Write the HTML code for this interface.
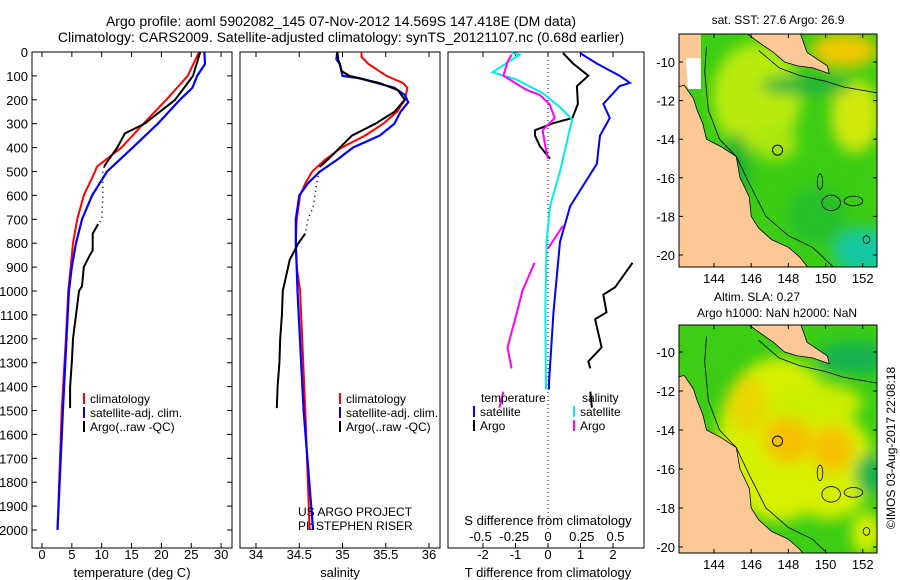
<!DOCTYPE html>
<html><head><meta charset="utf-8"><style>
body{margin:0;background:#fff;}
svg{display:block;font-family:"Liberation Sans",sans-serif;}
text{fill:#000;}
</style></head><body>
<svg id="s" width="900" height="580" viewBox="0 0 900 580" xmlns="http://www.w3.org/2000/svg">
<defs>
<filter id="bl1" x="-50%" y="-50%" width="200%" height="200%"><feGaussianBlur stdDeviation="7"/></filter>
<clipPath id="c1"><rect x="679" y="34" width="198" height="233"/></clipPath>
<clipPath id="c2"><rect x="679" y="325" width="198" height="228"/></clipPath>
</defs>
<text x="341" y="26" font-size="14" text-anchor="middle">Argo profile: aoml 5902082_145 07-Nov-2012 14.569S 147.418E (DM data)</text>
<text x="341" y="42" font-size="14" text-anchor="middle">Climatology: CARS2009. Satellite-adjusted climatology: synTS_20121107.nc (0.68d earlier)</text>
<g id="g"></g>
</svg>
<script>
// ---------- data ----------
const depthTicks=[0,100,200,300,400,500,600,700,800,900,1000,1100,1200,1300,1400,1500,1600,1700,1800,1900,2000];
const tempTicks=[0,5,10,15,20,25,30];
const salTicks=[34,34.5,35,35.5,36];
const tdiffTicks=[-2,-1,0,1,2];
const sdiffTicks=[-0.5,-0.25,0,0.25,0.5];
const sdiffTickLabels=["-0.5","-0.25","0","0.25","0.5"];

const climD=[0,100,200,300,400,480,500,600,700,800,900,1000,1200,1500,2000];
const climT=[26.3,24.4,20.8,17,13.3,9.2,8.9,7,5.9,5.2,4.8,4.4,4.0,3.3,2.6];
const satD=[0,50,100,150,200,300,400,500,600,700,800,900,1000,1500,2000];
const satT=[27.2,27.3,26,25.2,23.1,19.4,15.2,10.9,8.4,6.7,5.7,5,4.5,3.5,2.6];
const argoD=[0,100,200,300,340,400,460,480,500,600,700,720,760,830,850,900,980,1000,1100,1200,1300,1400,1490];
const argoT=[26.5,25.3,22.3,17.2,13.9,12.6,10.9,10.4,10.2,10.2,10,9.4,8.5,8.5,8,7,6.7,6.2,5.7,5.2,5,4.7,4.7];

const climSD=[0,20,50,100,130,150,200,250,300,350,400,450,500,550,600,700,800,900,1000,1500,2000];
const climS=[35.22,35.22,35.3,35.51,35.7,35.75,35.72,35.63,35.47,35.26,34.99,34.8,34.65,34.57,34.51,34.47,34.46,34.47,34.51,34.57,34.62];
const satSD=[0,30,50,100,110,150,180,210,250,300,350,400,450,500,550,600,700,800,900,1000,1500,2000];
const satS=[34.94,34.93,34.97,35.0,35.2,35.6,35.72,35.76,35.67,35.6,35.43,35.12,34.94,34.74,34.6,34.5,34.46,34.46,34.47,34.48,34.55,34.66];
const argoSD=[0,30,80,100,130,160,200,250,300,350,400,450,480,550,650,700,760,800,870,1000,1100,1200,1300,1400,1490];
const argoS=[34.94,34.95,34.99,35.08,35.43,35.64,35.72,35.6,35.38,35.11,34.97,34.83,34.74,34.7,34.66,34.6,34.57,34.49,34.39,34.31,34.3,34.28,34.27,34.25,34.24];

const dSatTD=[4,48,99,129,143,217,276,350,468,646,794,1088,1383,1412];
const dSatT=[0.98,1.5,2.2,2.52,2.2,1.7,1.9,1.6,1.5,0.68,0.37,0.17,0.03,0.03];
const dArgoTD1=[4,48,99,143,217,276,298,327,350,394,446];
const dArgoT1=[0.46,0.77,1.24,0.89,0.92,0.75,0.16,-0.4,-0.4,-0.25,0.06];
const dArgoTD2=[882,985,1015,1089,1118,1236,1295,1324];
const dArgoT2=[2.6,2.06,1.7,1.8,1.45,1.65,1.24,1.3];
const dArgoTD3=[1421,1488];
const dArgoT3=[1.3,1.35];
const dSatSD=[4,11,85,114,172,232,283,350,498,646,794,1088,1412];
const dSatS=[-0.27,-0.21,-0.41,-0.24,-0.04,0.09,0.18,0.15,0.09,0.015,-0.01,-0.02,-0.015];
const dArgoSD1=[11,41,99,158,180,217,276,327,394,446];
const dArgoS1=[-0.27,-0.3,-0.33,-0.16,-0.06,0.01,0.05,-0.04,-0.02,0];
const dArgoSD2=[727,823];
const dArgoS2=[0.11,0];
const dArgoSD3=[882,1000,1089,1236,1324];
const dArgoS3=[-0.1,-0.19,-0.23,-0.3,-0.27];
const dArgoSD4=[1421,1488];
const dArgoS4=[-0.33,-0.36];

const mapLatTicks=[-10,-12,-14,-16,-18,-20];
const mapLonTicks=[144,146,148,150,152];
const argoLon=147.418, argoLat=-14.569;

// ---------- helpers ----------
const NS="http://www.w3.org/2000/svg";
const G=document.getElementById('g');
function mk(tag,attrs,parent){const e=document.createElementNS(NS,tag);for(const k in attrs)e.setAttribute(k,attrs[k]);(parent||G).appendChild(e);return e;}
function txt(x,y,s,size,anchor,parent){const t=mk('text',{x:x,y:y,'font-size':size,'text-anchor':anchor||'middle'},parent);t.textContent=s;return t;}
const yD=d=>52+0.239*d;
const xT=v=>42+5.97*v;
const xS=v=>256+86.5*(v-34);
const xdT=v=>548+32.5*v;
const xdS=v=>548+135*v;

function poly(D,V,xf,color,w,name,dash){
  const pts=D.map((d,i)=>xf(V[i]).toFixed(1)+','+yD(d).toFixed(1)).join(' ');
  const p=mk('polyline',{points:pts,fill:'none',stroke:color,'stroke-width':w});
  if(dash)p.setAttribute('stroke-dasharray',dash);
  
  
  return p;
}

// ---------- panels ----------
const panels=[[32,232],[240,440],[448,644]];
panels.forEach((p,i)=>{
  const r=mk('rect',{x:p[0],y:52,width:p[1]-p[0],height:496,fill:'none',stroke:'#000','stroke-width':1});
  
  
});
depthTicks.forEach(d=>{
  const t=txt(28,yD(d)+5,String(d),13,'end');
  
  
  mk('line',{x1:32,x2:37,y1:yD(d),y2:yD(d),stroke:'#000'});
  mk('line',{x1:227,x2:232,y1:yD(d),y2:yD(d),stroke:'#000'});
});
function xticks(ticks,labels,xf,ylab,top,bot){
  ticks.forEach((v,i)=>{
    const x=xf(v);
    mk('line',{x1:x,x2:x,y1:top,y2:top+5,stroke:'#000'});
    mk('line',{x1:x,x2:x,y1:bot-5,y2:bot,stroke:'#000'});
    const t=txt(x,ylab,labels[i],13,'middle');
    
    
  });
}
xticks(tempTicks,tempTicks.map(String),xT,559,52,548);
xticks(salTicks,salTicks.map(String),xS,559,52,548);
xticks(tdiffTicks,tdiffTicks.map(String),xdT,559,52,548);
sdiffTicks.forEach((v,i)=>{const t=txt(xdS(v),541,sdiffTickLabels[i],13,'middle');
  
  });
let t;
t=txt(132,577,'temperature (deg C)',13);
t=txt(340,577,'salinity',13);
t=txt(548,577,'T difference from climatology',13);
t=txt(548,525,'S difference from climatology',13);
mk('line',{x1:548,x2:548,y1:52,y2:548,stroke:'#000','stroke-dasharray':'1 3'});

poly(climD,climT,xT,'#f00',2,'climatology-temperature-line');
poly(satD,satT,xT,'#00f',2.2,'satellite-temperature-line');
poly(argoD,argoT,xT,'#000',1.5,'argo-temperature-dotted','1 4');
const aI=argoD.map((d,i)=>i).filter(i=>argoD[i]<=480);
poly(aI.map(i=>argoD[i]),aI.map(i=>argoT[i]),xT,'#000',2,'argo-temperature-line');
const aJ=argoD.map((d,i)=>i).filter(i=>argoD[i]>=720);
poly(aJ.map(i=>argoD[i]),aJ.map(i=>argoT[i]),xT,'#000',2,'argo-temperature-deep-line');
poly(climSD,climS,xS,'#f00',2,'climatology-salinity-line');
poly(satSD,satS,xS,'#00f',2.2,'satellite-salinity-line');
poly(argoSD,argoS,xS,'#000',1.5,'argo-salinity-dotted','1 4');
const sI=argoSD.map((d,i)=>i).filter(i=>argoSD[i]<=480);
poly(sI.map(i=>argoSD[i]),sI.map(i=>argoS[i]),xS,'#000',2,'argo-salinity-line');
const sJ=argoSD.map((d,i)=>i).filter(i=>argoSD[i]>=760);
poly(sJ.map(i=>argoSD[i]),sJ.map(i=>argoS[i]),xS,'#000',2,'argo-salinity-deep-line');
poly(dSatTD,dSatT,xdT,'#00f',2,'satellite-tdiff-line');
poly(dArgoTD1,dArgoT1,xdT,'#000',2,'argo-tdiff-line');
poly(dArgoTD2,dArgoT2,xdT,'#000',2,'argo-tdiff-deep-line');
poly(dArgoTD3,dArgoT3,xdT,'#000',2,'argo-tdiff-bottom-line');
poly(dSatSD,dSatS,xdS,'#0ee',2,'satellite-sdiff-line');
poly(dArgoSD1,dArgoS1,xdS,'#f0f',2,'argo-sdiff-line');
poly(dArgoSD2,dArgoS2,xdS,'#f0f',2,'argo-sdiff-mid-line');
poly(dArgoSD3,dArgoS3,xdS,'#f0f',2,'argo-sdiff-deep-line');
poly(dArgoSD4,dArgoS4,xdS,'#f0f',2,'argo-sdiff-bottom-line');

function leg(x,y,color,label){
  const g=mk('g',{});
  
  
  mk('line',{x1:x,x2:x,y1:y-10,y2:y+1,stroke:color,'stroke-width':2},g);
  txt(x+6,y,label,12,'start',g);
}
[84,340].forEach(x=>{
  leg(x,403,'#f00','climatology');
  leg(x,417,'#00f','satellite-adj. clim.');
  leg(x,431,'#000','Argo(..raw -QC)');
});
t=txt(481,402,'temperature',12,'start');
t=txt(582,402,'salinity',12,'start');
leg(474,416,'#00f','satellite');
leg(474,430,'#000','Argo');
leg(574,416,'#0ee','satellite');
leg(574,430,'#f0f','Argo');
t=txt(298,516,'US ARGO PROJECT',12,'start');
t=txt(298,530,'PI: STEPHEN RISER',12,'start');

// ---------- maps ----------
const australia=[[142.0,-21],[142.0,-11.3],[142.4,-11.2],[142.9,-11.9],[143.1,-12.5],[143.4,-13.2],[143.6,-14],[144.4,-14.4],[145.2,-14.9],[145.4,-16],[145.9,-17],[146.0,-18],[146.4,-18.6],[147.1,-19.2],[148,-19.6],[148.6,-20.1],[149.1,-20.7],[142,-20.7]];
const png=[[145.6,-8.4],[146.3,-8.9],[147.2,-9.5],[147.8,-10.0],[148.5,-10.2],[149.3,-10.3],[150.2,-10.6],[150.1,-10.2],[149,-9.5],[148.6,-8.4]];
const iso=[[143.6,-9.2],[143.5,-10.5],[143.7,-12.5],[144.3,-14],[145.2,-14.9],[145.9,-16.3],[146.8,-18],[148,-19],[149.3,-19.6],[150.5,-20.7]];
const iso2=[[146.4,-9.4],[147.5,-10.3],[148.6,-10.7],[150,-11],[151,-11.3],[152.8,-11.6]];
function drawMap(id,x0,y0,w,h,yLatM10,pxLat,blobs,base,extraLand,white){
  const lon0=142.12, pxLon=18.6;
  const X=lon=>x0+(lon-lon0)*pxLon;
  const Y=lat=>yLatM10+(-10-lat)*pxLat;
  const g=mk('g',{'clip-path':'url(#'+id+')'});
  
  
  mk('rect',{x:x0,y:y0,width:w,height:h,fill:base},g);
  const bg=mk('g',{filter:'url(#bl1)'},g);
  blobs.forEach(b=>mk('ellipse',{cx:X(b[0]),cy:Y(b[1]),rx:b[2]*pxLon,ry:b[3]*pxLat,fill:b[4]},bg));
  const P=a=>a.map(p=>X(p[0]).toFixed(1)+','+Y(p[1]).toFixed(1)).join(' ');
  if(extraLand)mk('polygon',{points:P(extraLand),fill:'#fcc896'},g);
  if(white)mk('polygon',{points:P(white),fill:'#fff'},g);
  const l1=mk('polygon',{points:P(australia),fill:'#fcc896',stroke:'#000','stroke-width':0.8},g);
  
  const l2=mk('polygon',{points:P(png),fill:'#fcc896',stroke:'#000','stroke-width':0.8},g);
  
  mk('polyline',{points:P(iso),fill:'none',stroke:'#000','stroke-width':0.8},g);
  mk('polyline',{points:P(iso2),fill:'none',stroke:'#000','stroke-width':0.8},g);
  [[150.3,-17.3,0.5,0.4],[151.5,-17.2,0.5,0.25],[149.7,-16.2,0.15,0.4],[152.2,-19.2,0.18,0.2]].forEach(r=>
    mk('ellipse',{cx:X(r[0]),cy:Y(r[1]),rx:r[2]*pxLon,ry:r[3]*pxLat,fill:'none',stroke:'#000','stroke-width':0.8},g));
  const c=mk('circle',{cx:X(argoLon),cy:Y(argoLat),r:5,fill:'none',stroke:'#000','stroke-width':1});
  
  const fr=mk('rect',{x:x0,y:y0,width:w,height:h,fill:'none',stroke:'#000'});
  
  mapLatTicks.forEach(lat=>{const y=Y(lat);
    mk('line',{x1:x0,x2:x0+4,y1:y,y2:y,stroke:'#000'});mk('line',{x1:x0+w-4,x2:x0+w,y1:y,y2:y,stroke:'#000'});
    const tt=txt(x0-4,y+5,String(lat),13,'end');});
  mapLonTicks.forEach(lon=>{const x=X(lon);
    mk('line',{x1:x,x2:x,y1:y0+h-4,y2:y0+h,stroke:'#000'});mk('line',{x1:x,x2:x,y1:y0,y2:y0+4,stroke:'#000'});
    const tt=txt(x,y0+h+16,String(lon),13,'middle');});
}
drawMap('c1',679,34,198,233,62,19.3,[
 [146.3,-11.8,2.4,2.8,'#b8ea08'],[147.3,-14.2,1.2,0.9,'#a8e60a'],[151.6,-12.8,1.3,1.9,'#d2e810'],[151,-9.4,1.8,0.9,'#f0c800'],
 [152,-19.8,1.6,1.2,'#14c8a0'],[145.2,-15.5,0.7,1.8,'#1eb432'],[149,-11.2,2.5,0.5,'#22b43a'],[149.5,-18,1.6,1.5,'#26c02a']],'#3ccd14',
 [[142.0,-8.4],[143.3,-8.4],[143.3,-11.3],[142.0,-11.3]],
 [[142.5,-9.8],[143.3,-9.8],[143.3,-11.4],[142.6,-11.4]]);
drawMap('c2',679,325,198,228,352,19.5,[
 [147.5,-14.5,3.3,4.2,'#d6f000'],[150.2,-15.8,2.4,2.8,'#d6f000'],[148,-14.5,1.3,1.2,'#f5c000'],[150.4,-15,1.1,1.2,'#f5c000'],
 [145.8,-12.7,1.1,1.5,'#e8d800'],[149.5,-12.6,2.5,1,'#ccee00'],[151.5,-10.3,2,0.9,'#14b450'],[152.4,-16.3,0.8,1.1,'#14b450'],[152.2,-19.3,0.8,1.1,'#d6f000']],'#3ccd14',null,null);
t=txt(778,24,'sat. SST: 27.6 Argo: 26.9',12);
t=txt(757,301,'Altim. SLA: 0.27',12);
t=txt(777,317,'Argo h1000: NaN h2000: NaN',12);
t=txt(0,0,'©IMOS 03-Aug-2017 22:08:18',12);t.setAttribute('transform','translate(895,448) rotate(-90)');

</script>
</body></html>
